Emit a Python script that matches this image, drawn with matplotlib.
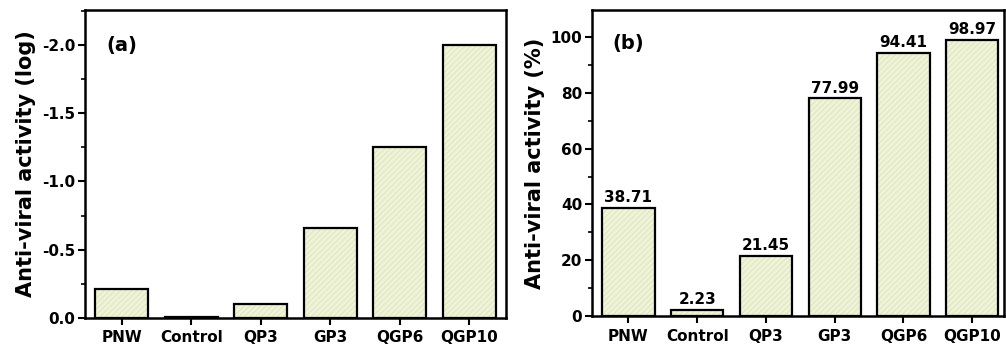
import matplotlib
matplotlib.use("Agg")
import matplotlib.pyplot as plt
from matplotlib.ticker import MultipleLocator, FormatStrFormatter

plt.rcParams['font.family'] = ['DejaVu Sans']
plt.rcParams['font.weight'] = 'bold'
plt.rcParams['hatch.linewidth'] = 0.6

categories = ["PNW", "Control", "QP3", "GP3", "QGP6", "QGP10"]
log_activity = [-0.21, -0.01, -0.10, -0.66, -1.25, -2.00]
pct_activity = [38.71, 2.23, 21.45, 77.99, 94.41, 98.97]
pct_labels = ["38.71", "2.23", "21.45", "77.99", "94.41", "98.97"]

fill_color = "#eff3d8"
hatch_color = "#dce3bc"

fig = plt.figure(figsize=(10.06, 3.54), dpi=100)
ax1 = fig.add_axes([0.0845, 0.1017, 0.4185, 0.870])
ax2 = fig.add_axes([0.5885, 0.107, 0.41, 0.865])

x = list(range(len(categories)))

def draw_bars(ax, vals):
    ax.bar(x, vals, width=0.76, color=fill_color, edgecolor=hatch_color,
           hatch='//////', linewidth=0, zorder=2)
    ax.bar(x, vals, width=0.76, color='none', edgecolor='black',
           linewidth=1.6, zorder=3)

draw_bars(ax1, log_activity)
draw_bars(ax2, pct_activity)

# panel (a)
ax1.set_xlim(-0.53, 5.53)
ax1.set_ylim(0, -2.256)
ax1.yaxis.set_major_locator(MultipleLocator(0.5))
ax1.yaxis.set_minor_locator(MultipleLocator(0.25))
ax1.yaxis.set_major_formatter(FormatStrFormatter('%.1f'))
ax1.set_ylabel("Anti-viral activity (log)", fontsize=15, fontweight='bold', labelpad=4)
ax1.text(0.05, 0.886, "(a)", transform=ax1.transAxes, fontsize=14,
         fontweight='bold', va='center', ha='left')

# panel (b)
ax2.set_xlim(-0.53, 5.47)
ax2.set_ylim(0, 109.7)
ax2.yaxis.set_major_locator(MultipleLocator(20))
ax2.yaxis.set_minor_locator(MultipleLocator(10))
ax2.set_ylabel("Anti-viral activity (%)", fontsize=15, fontweight='bold', labelpad=4)
ax2.text(0.05, 0.89, "(b)", transform=ax2.transAxes, fontsize=14,
         fontweight='bold', va='center', ha='left')
for xi, v, lab in zip(x, pct_activity, pct_labels):
    ax2.text(xi, v + 1.0, lab, ha='center', va='bottom', fontsize=11,
             fontweight='bold')

for ax in (ax1, ax2):
    ax.set_xticks(x)
    ax.set_xticklabels(categories, fontsize=11, fontweight='bold')
    ax.tick_params(axis='y', labelsize=11, width=1.5, length=5, direction='out', pad=2)
    ax.tick_params(axis='y', which='minor', width=1.2, length=3, direction='out')
    ax.tick_params(axis='x', width=1.5, length=5, direction='out', pad=4)
    for lab in ax.get_yticklabels():
        lab.set_fontweight('bold')
    for s in ax.spines.values():
        s.set_linewidth(1.8)

fig.savefig("out.png", dpi=100)
